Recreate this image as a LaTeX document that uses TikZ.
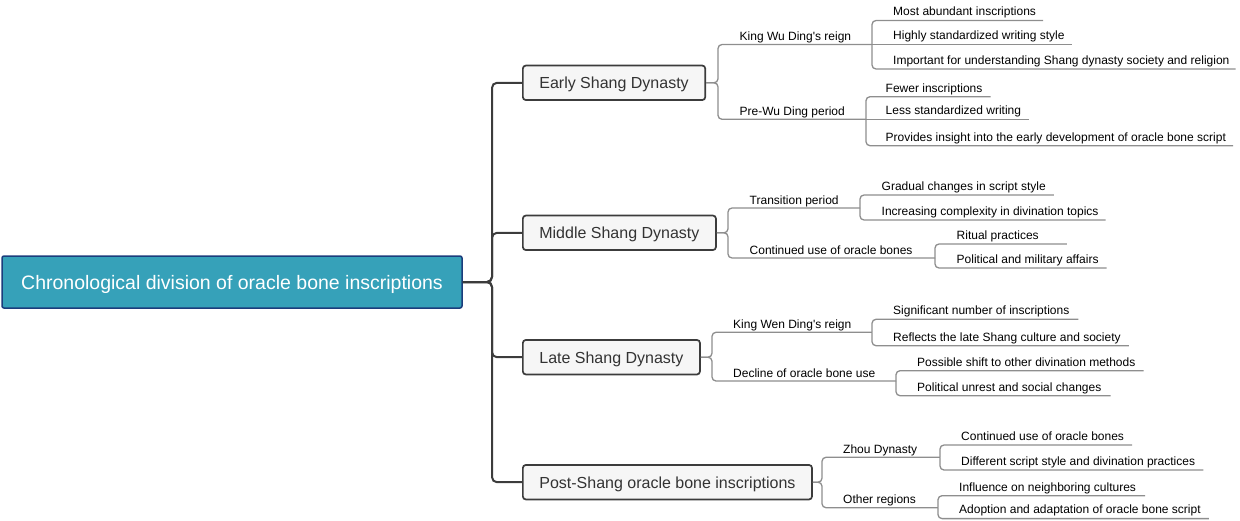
\documentclass[tikz,border=0pt]{standalone}
\usepackage{fontspec}
\setmainfont{Liberation Sans}
\definecolor{rootfill}{HTML}{36A1B9}
\definecolor{rootborder}{HTML}{1B3D7C}
\definecolor{mainfill}{HTML}{F6F6F6}
\definecolor{maindraw}{HTML}{3C3C3C}
\definecolor{maintext}{HTML}{333333}
\definecolor{subgray}{HTML}{8E8E8E}
\begin{document}
\begin{tikzpicture}[x=1pt,y=-1pt,
  rootbox/.style={draw=rootborder, line width=1.5pt, fill=rootfill, rounded corners=2pt, text=white, font=\fontsize{19.5}{23}\selectfont, minimum width=460pt, minimum height=52pt, inner sep=0pt, text height=17pt, text depth=3pt},
  mainbox/.style={draw=maindraw, line width=1.7pt, fill=mainfill, rounded corners=3pt, text=maintext, font=\fontsize{16}{19}\selectfont, anchor=west, inner xsep=16.5pt, inner ysep=0pt, minimum height=34.5pt, text height=14pt, text depth=2pt},
  subnode/.style={anchor=south west, inner sep=0pt, text depth=3.6pt, text height=9pt, font=\fontsize{12}{14}\selectfont},
  leafnode/.style={anchor=south west, inner sep=0pt, text depth=4.5pt, text height=9pt, font=\fontsize{12}{14}\selectfont},
  mainline/.style={draw=maindraw, line width=2pt, rounded corners=5pt},
  subline/.style={draw=subgray, line width=1.3pt, rounded corners=4pt},
]
\useasboundingbox (0,0) rectangle (1240,520);

% root and main branches
\node[rootbox] (root) at (232,282) {Chronological division of oracle bone inscriptions};
\coordinate (trunk) at (492,282);
\node[mainbox] (early) at (522,82.8) {Early Shang Dynasty};
\node[mainbox] (middle) at (522,232.8) {Middle Shang Dynasty};
\node[mainbox] (late) at (522,357.2) {Late Shang Dynasty};
\node[mainbox] (post) at (522,482.2) {Post-Shang oracle bone inscriptions};

\foreach \b in {early,middle,late,post}
  \draw[mainline] (root.east) -- (root.east -| trunk) -- (trunk |- \b.west) -- (\b.west);

% ---------- Early Shang ----------
\node[subnode] (e1) at (718,44.5) {\hspace*{21.5pt}King Wu Ding\textquotesingle s reign};
\node[subnode] (e2) at (718,119.3) {\hspace*{21.5pt}Pre-Wu Ding period};
\node[leafnode] (e1a) at (872,20.5) {\hspace*{21pt}Most abundant inscriptions\hspace*{7pt}};
\node[leafnode] (e1b) at (872,44.5) {\hspace*{21pt}Highly standardized writing style\hspace*{7pt}};
\node[leafnode] (e1c) at (872,69) {\hspace*{21pt}Important for understanding Shang dynasty society and religion\hspace*{6pt}};
\node[leafnode] (e2a) at (866,96.7) {\hspace*{19.5pt}Fewer inscriptions\hspace*{8pt}};
\node[leafnode] (e2b) at (866,119.3) {\hspace*{19.5pt}Less standardized writing\hspace*{8pt}};
\node[leafnode] (e2c) at (866,145.7) {\hspace*{19.5pt}Provides insight into the early development of oracle bone script\hspace*{7pt}};

\draw[subline] (early.east) -- (early.east -| e1.south west) -- (e1.south west) -- (e1.south west -| e1a.south west);
\draw[subline] (early.east) -- (early.east -| e2.south west) -- (e2.south west) -- (e2.south west -| e2a.south west);
\draw[subline] (e1.south west -| e1a.south west) -- (e1a.south west) -- (e1a.south east);
\draw[subline] (e1b.south west) -- (e1b.south east);
\draw[subline] (e1.south west -| e1c.south west) -- (e1c.south west) -- (e1c.south east);
\draw[subline] (e2.south west -| e2a.south west) -- (e2a.south west) -- (e2a.south east);
\draw[subline] (e2b.south west) -- (e2b.south east);
\draw[subline] (e2.south west -| e2c.south west) -- (e2c.south west) -- (e2c.south east);

% ---------- Middle Shang ----------
\node[subnode] (m1) at (728,208) {\hspace*{21.5pt}Transition period};
\node[subnode] (m2) at (728,258) {\hspace*{21.5pt}Continued use of oracle bones};
\node[leafnode] (m1a) at (860,195) {\hspace*{21.5pt}Gradual changes in script style\hspace*{8pt}};
\node[leafnode] (m1b) at (860,220) {\hspace*{21.5pt}Increasing complexity in divination topics\hspace*{7pt}};
\node[leafnode] (m2a) at (935,244) {\hspace*{21.5pt}Ritual practices\hspace*{28pt}};
\node[leafnode] (m2b) at (935,268) {\hspace*{21.5pt}Political and military affairs\hspace*{8pt}};

\draw[subline] (middle.east) -- (middle.east -| m1.south west) -- (m1.south west) -- (m1.south west -| m1a.south west);
\draw[subline] (middle.east) -- (middle.east -| m2.south west) -- (m2.south west) -- (m2.south west -| m2a.south west);
\draw[subline] (m1.south west -| m1a.south west) -- (m1a.south west) -- (m1a.south east);
\draw[subline] (m1.south west -| m1b.south west) -- (m1b.south west) -- (m1b.south east);
\draw[subline] (m2.south west -| m2a.south west) -- (m2a.south west) -- (m2a.south east);
\draw[subline] (m2.south west -| m2b.south west) -- (m2b.south west) -- (m2b.south east);

% ---------- Late Shang ----------
\node[subnode] (t1) at (712,332.3) {\hspace*{21pt}King Wen Ding\textquotesingle s reign};
\node[subnode] (t2) at (712,381) {\hspace*{21pt}Decline of oracle bone use};
\node[leafnode] (t1a) at (872,319.3) {\hspace*{21pt}Significant number of inscriptions\hspace*{9pt}};
\node[leafnode] (t1b) at (872,345.7) {\hspace*{21pt}Reflects the late Shang culture and society\hspace*{8pt}};
\node[leafnode] (t2a) at (896,370.7) {\hspace*{21pt}Possible shift to other divination methods\hspace*{8pt}};
\node[leafnode] (t2b) at (896,395.7) {\hspace*{21pt}Political unrest and social changes\hspace*{9pt}};

\draw[subline] (late.east) -- (late.east -| t1.south west) -- (t1.south west) -- (t1.south west -| t1a.south west);
\draw[subline] (late.east) -- (late.east -| t2.south west) -- (t2.south west) -- (t2.south west -| t2a.south west);
\draw[subline] (t1.south west -| t1a.south west) -- (t1a.south west) -- (t1a.south east);
\draw[subline] (t1.south west -| t1b.south west) -- (t1b.south west) -- (t1b.south east);
\draw[subline] (t2.south west -| t2a.south west) -- (t2a.south west) -- (t2a.south east);
\draw[subline] (t2.south west -| t2b.south west) -- (t2b.south west) -- (t2b.south east);

% ---------- Post-Shang ----------
\node[subnode] (p1) at (822,457.3) {\hspace*{21pt}Zhou Dynasty};
\node[subnode] (p2) at (822,507.7) {\hspace*{21pt}Other regions};
\node[leafnode] (p1a) at (940,445) {\hspace*{21pt}Continued use of oracle bones\hspace*{8pt}};
\node[leafnode] (p1b) at (940,470) {\hspace*{21pt}Different script style and divination practices\hspace*{8pt}};
\node[leafnode] (p2a) at (938,495.7) {\hspace*{21pt}Influence on neighboring cultures\hspace*{9pt}};
\node[leafnode] (p2b) at (938,518.6) {\hspace*{21pt}Adoption and adaptation of oracle bone script\hspace*{8pt}};

\draw[subline] (post.east) -- (post.east -| p1.south west) -- (p1.south west) -- (p1.south west -| p1a.south west);
\draw[subline] (post.east) -- (post.east -| p2.south west) -- (p2.south west) -- (p2.south west -| p2a.south west);
\draw[subline] (p1.south west -| p1a.south west) -- (p1a.south west) -- (p1a.south east);
\draw[subline] (p1.south west -| p1b.south west) -- (p1b.south west) -- (p1b.south east);
\draw[subline] (p2.south west -| p2a.south west) -- (p2a.south west) -- (p2a.south east);
\draw[subline] (p2.south west -| p2b.south west) -- (p2b.south west) -- (p2b.south east);
\end{tikzpicture}
\end{document}
